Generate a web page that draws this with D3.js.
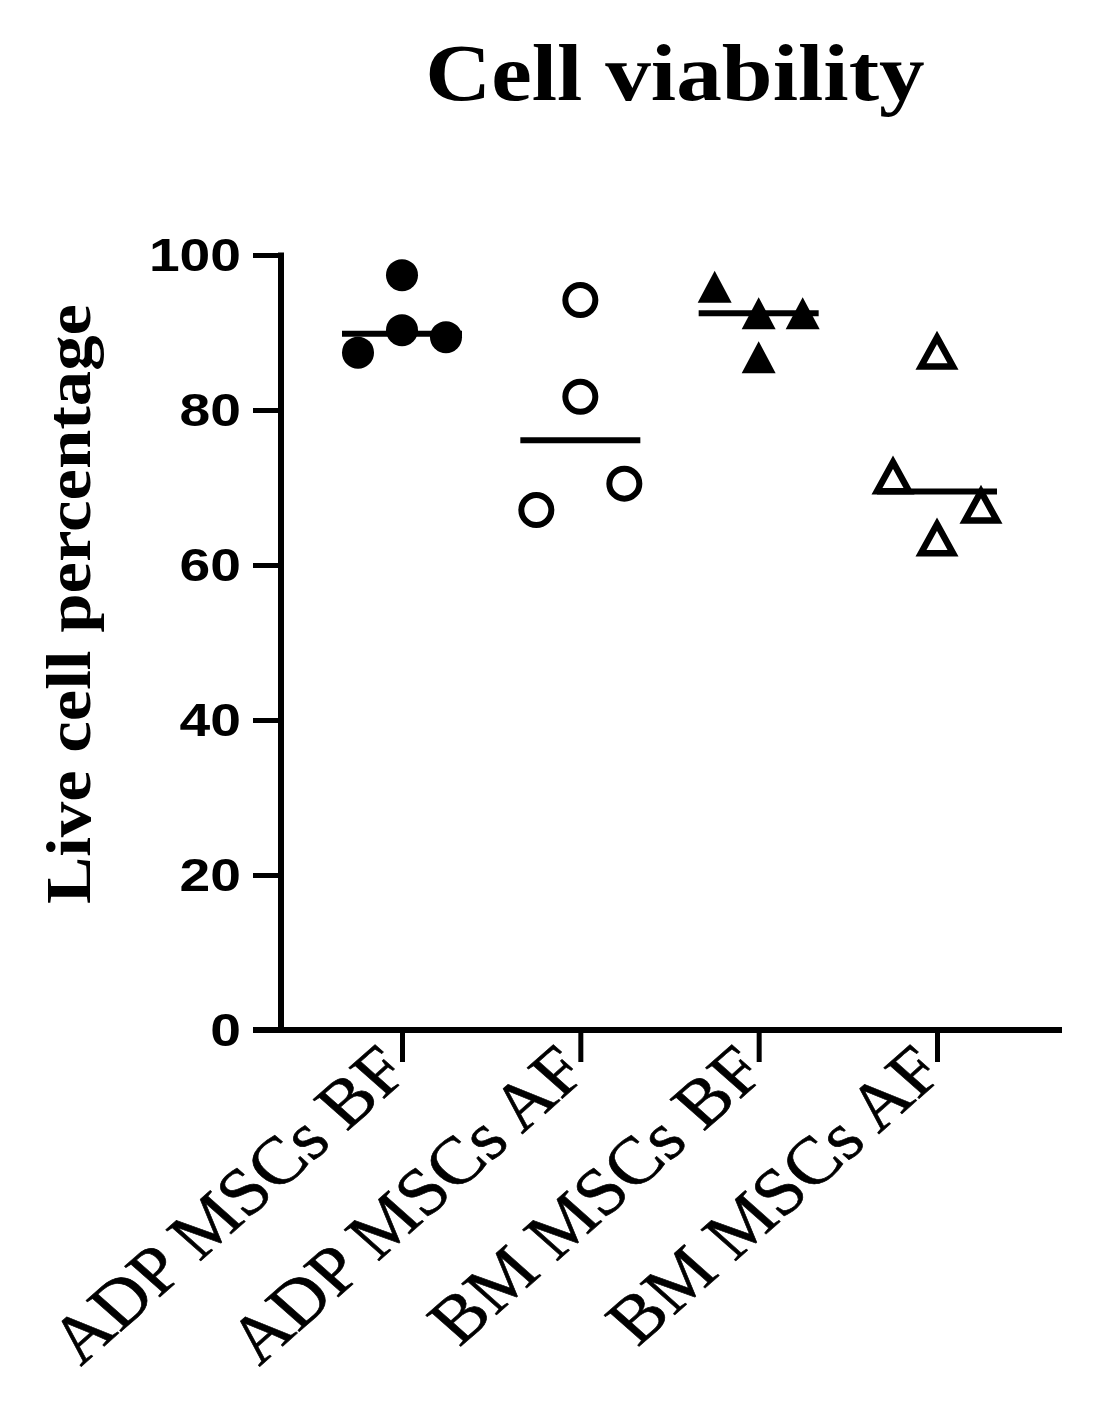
<!DOCTYPE html>
<html>
<head>
<meta charset="utf-8">
<script src="https://cdn.jsdelivr.net/npm/d3@7"></script>
<style>
  html, body { margin: 0; padding: 0; background: #fff; }
  svg { display: block; }
</style>
</head>
<body>
<svg id="chart" width="1101" height="1401"></svg>
<script>
// ---- data ----
const categories = ["ADP MSCs BF", "ADP MSCs AF", "BM MSCs BF", "BM MSCs AF"];
const adpBF = [97.4, 90.3, 89.4, 87.4];
const adpAF = [94.2, 81.7, 70.5, 67.1];
const bmBF  = [95.9, 92.5, 92.5, 86.8];
const bmAF  = [87.5, 71.4, 67.6, 63.4];
// horizontal slot of each replicate in the scatter column (-1 left, 0 centre, 1 right)
const adpBFSlot = [0, 0, 1, -1];
const adpAFSlot = [0, 0, 1, -1];
const bmBFSlot  = [-1, 0, 1, 0];
const bmAFSlot  = [0, -1, 1, 0];
const yTicks = [0, 20, 40, 60, 80, 100];
const titleText = "Cell viability";
const yLabelText = "Live cell percentage";

const groups = [
  { name: categories[0], values: adpBF, slots: adpBFSlot, shape: "circle",   filled: true },
  { name: categories[1], values: adpAF, slots: adpAFSlot, shape: "circle",   filled: false },
  { name: categories[2], values: bmBF,  slots: bmBFSlot,  shape: "triangle", filled: true },
  { name: categories[3], values: bmAF,  slots: bmAFSlot,  shape: "triangle", filled: false }
];

// ---- layout ----
const S = 1.13; // horizontal stretch of the original figure's text
const svg = d3.select("#chart");
const axisX = 281, axisY = 1030, topY = 255, rightX = 1062;
const x = d3.scalePoint().domain(categories).range([402, 937]);
const y = d3.scaleLinear().domain([0, 100]).range([axisY, topY]);
const slotW = 44;
const black = "#000";

// title
svg.append("text")
  .attr("transform", `translate(675,100) scale(${S},1)`)
  .attr("text-anchor", "middle")
  .attr("font-family", "'Liberation Serif', serif")
  .attr("font-weight", "bold")
  .attr("font-size", 80)
  .attr("textLength", 442)
  .attr("lengthAdjust", "spacingAndGlyphs")
  .attr("fill", black)
  .text(titleText);

// y label
svg.append("text")
  .attr("transform", `translate(90,604) scale(${S},1) rotate(-90)`)
  .attr("text-anchor", "middle")
  .attr("font-family", "'Liberation Serif', serif")
  .attr("font-weight", "bold")
  .attr("font-size", 57)
  .attr("textLength", 600)
  .attr("lengthAdjust", "spacingAndGlyphs")
  .attr("fill", black)
  .text(yLabelText);

// y axis
const yAxis = d3.axisLeft(y).tickValues(yTicks).tickSize(28).tickPadding(0).tickFormat(d3.format("d"));
const gy = svg.append("g").attr("transform", `translate(${axisX},0)`).call(yAxis);
gy.select(".domain").remove();
gy.append("line").attr("x1", 0).attr("x2", 0).attr("y1", topY - 2.5).attr("y2", axisY + 3)
  .attr("stroke", black).attr("stroke-width", 6);
gy.selectAll(".tick line").attr("stroke", black).attr("stroke-width", 5);
gy.selectAll(".tick text")
  .attr("x", null)
  .attr("dy", null)
  .attr("transform", `translate(-40,0) scale(1.2,1)`)
  .attr("dominant-baseline", "central")
  .attr("font-family", "'Liberation Sans', Arial, sans-serif")
  .attr("font-weight", "bold")
  .attr("font-size", 46)
  .attr("fill", black);

// x axis
const xAxis = d3.axisBottom(x).tickSize(32).tickFormat("");
const gx = svg.append("g").attr("transform", `translate(0,${axisY})`).call(xAxis);
gx.select(".domain").remove();
gx.append("line").attr("x1", axisX - 28).attr("x2", rightX).attr("y1", 0).attr("y2", 0)
  .attr("stroke", black).attr("stroke-width", 6);
gx.selectAll(".tick line").attr("stroke", black).attr("stroke-width", 5);

// x category labels (rotated, stretched)
svg.append("g").selectAll("text")
  .data(categories)
  .join("text")
  .attr("transform", d => `translate(${x(d) + 10},${axisY + 44}) scale(${S},1) rotate(-45)`)
  .attr("text-anchor", "end")
  .attr("font-family", "'Liberation Serif', serif")
  .attr("font-size", 67)
  .attr("stroke", black)
  .attr("stroke-width", 0.6)
  .attr("fill", black)
  .text(d => d);

// median lines
svg.append("g").selectAll("line")
  .data(groups)
  .join("line")
  .attr("x1", d => x(d.name) - 60)
  .attr("x2", d => x(d.name) + 60)
  .attr("y1", d => y(d3.median(d.values)))
  .attr("y2", d => y(d3.median(d.values)))
  .attr("stroke", black)
  .attr("stroke-width", 6);

// markers
function triPath(w, h) {
  return `M0,${-h / 2}L${w / 2},${h / 2}L${-w / 2},${h / 2}Z`;
}
groups.forEach(g => {
  const pts = g.values.map((v, i) => ({ v, s: g.slots[i] }));
  const sel = svg.append("g").selectAll("path").data(pts).join("path")
    .attr("transform", d => `translate(${x(g.name) + d.s * slotW},${y(d.v)})`);
  if (g.shape === "circle") {
    if (g.filled) {
      sel.attr("d", d3.arc()({ innerRadius: 0, outerRadius: 16, startAngle: 0, endAngle: 2 * Math.PI }))
        .attr("fill", black);
    } else {
      sel.attr("d", d3.arc()({ innerRadius: 0, outerRadius: 15, startAngle: 0, endAngle: 2 * Math.PI }))
        .attr("fill", "#fff").attr("stroke", black).attr("stroke-width", 6);
    }
  } else {
    if (g.filled) {
      sel.attr("d", triPath(34, 32)).attr("fill", black);
    } else {
      sel.attr("d", triPath(32, 29)).attr("fill", "#fff").attr("stroke", black)
        .attr("stroke-width", 6.5).attr("stroke-linejoin", "miter");
    }
  }
});
</script>
</body>
</html>
